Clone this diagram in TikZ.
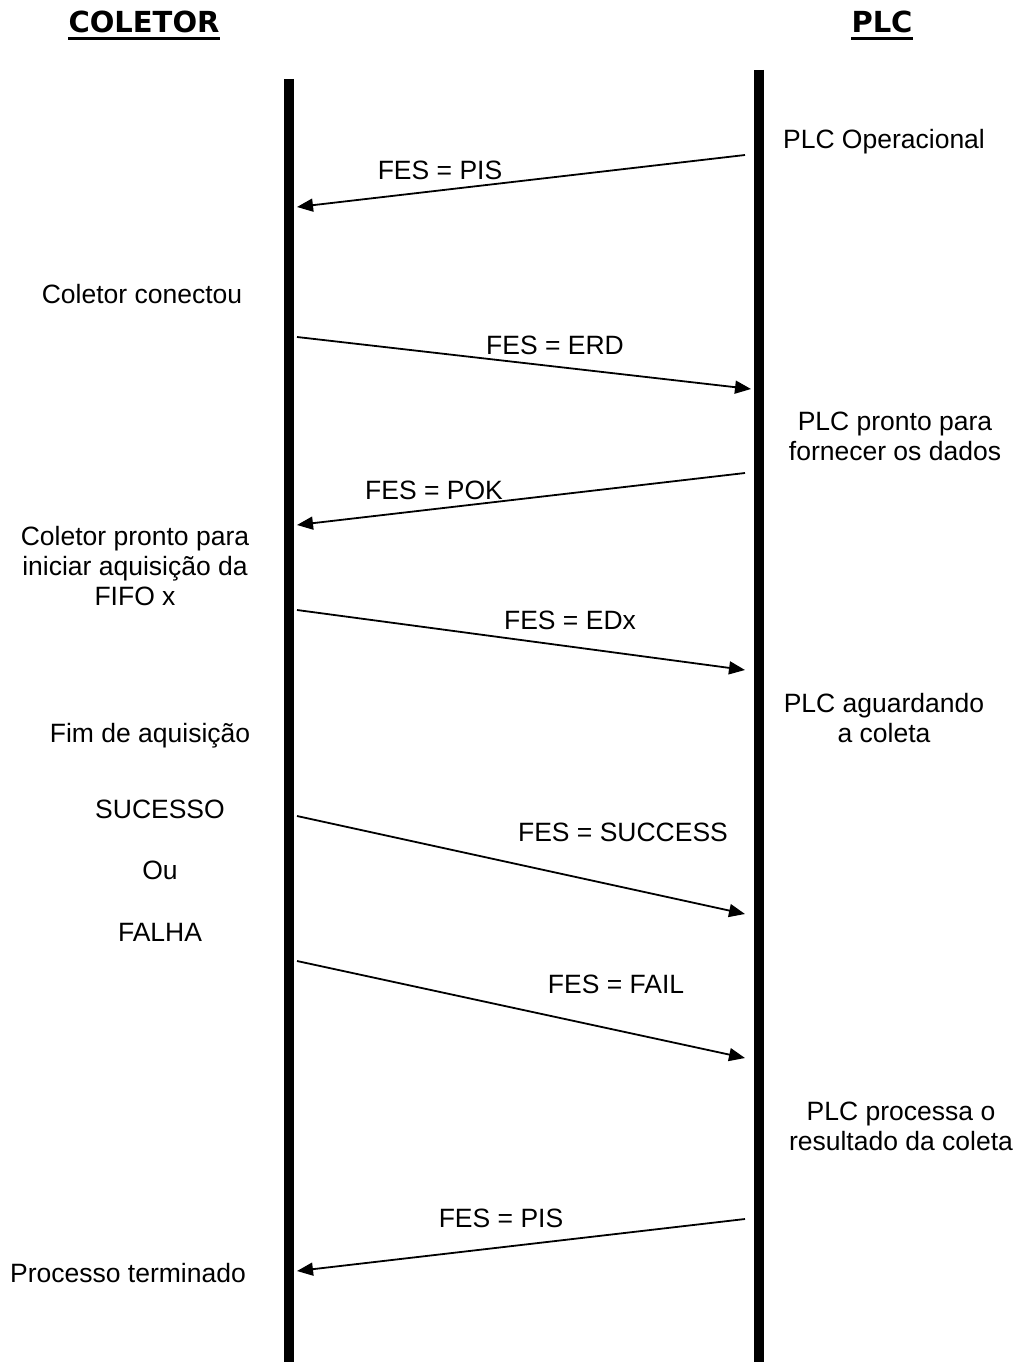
\documentclass[tikz,border=0pt]{standalone}
\usepackage{fontspec}
\setmainfont{Liberation Sans}
\newfontfamily\headfont{DejaVu Sans}
\usetikzlibrary{arrows.meta}
\begin{document}
\begin{tikzpicture}[x=1pt,y=-1pt,
  lifeline/.style={line width=10pt},
  msg/.style={line width=1.8pt,-{Triangle[length=16pt,width=13pt]}},
  lbl/.style={inner sep=0pt,anchor=base,align=center,font=\fontsize{26.5}{30}\selectfont},
  hdr/.style={inner sep=0pt,anchor=base,font=\headfont\bfseries\fontsize{29}{33}\selectfont}]
\useasboundingbox (0,0) rectangle (1021,1362);
% headers
\node[hdr] (hc) at (144,33) {COLETOR};
\node[hdr] (hp) at (882,33) {PLC};
\draw[line width=3pt] ([yshift=-6pt]hc.base west) -- ([yshift=-6pt]hc.base east);
\draw[line width=3pt] ([yshift=-6pt]hp.base west) -- ([yshift=-6pt]hp.base east);
% lifelines
\coordinate (Ltop) at (289,79);
\coordinate (Lbot) at (289,1362);
\coordinate (Rtop) at (759,70);
\coordinate (Rbot) at (759,1362);
\draw[lifeline] (Ltop) -- (Lbot);
\draw[lifeline] (Rtop) -- (Rbot);
% message end points
\coordinate (m1s) at (745,155);  \coordinate (m1e) at (297,207);
\coordinate (m2s) at (297,337);  \coordinate (m2e) at (751,389);
\coordinate (m3s) at (745,473);  \coordinate (m3e) at (297,525);
\coordinate (m4s) at (297,610);  \coordinate (m4e) at (745,670);
\coordinate (m5s) at (297,816);  \coordinate (m5e) at (745,914);
\coordinate (m6s) at (297,961);  \coordinate (m6e) at (745,1058);
\coordinate (m7s) at (745,1219); \coordinate (m7e) at (297,1271);
\draw[msg] (m1s) -- (m1e);
\draw[msg] (m2s) -- (m2e);
\draw[msg] (m3s) -- (m3e);
\draw[msg] (m4s) -- (m4e);
\draw[msg] (m5s) -- (m5e);
\draw[msg] (m6s) -- (m6e);
\draw[msg] (m7s) -- (m7e);
% message labels
\node[lbl] (t1) at (440,179) {FES = PIS};
\node[lbl] (t2) at (555,354) {FES = ERD};
\node[lbl] (t3) at (434,499) {FES = POK};
\node[lbl] (t4) at (570,629) {FES = EDx};
\node[lbl] (t5) at (623,841) {FES = SUCCESS};
\node[lbl] (t6) at (616,993) {FES = FAIL};
\node[lbl] (t7) at (501,1227) {FES = PIS};
% left side states
\node[lbl] (c1) at (142,303) {Coletor conectou};
\node[lbl] (c2) at (135,605) {Coletor pronto para\\iniciar aquisição da\\FIFO x};
\node[lbl] (c3) at (150,742) {Fim de aquisição};
\node[lbl] (c4) at (160,818) {SUCESSO};
\node[lbl] (c5) at (160,879) {Ou};
\node[lbl] (c6) at (160,941) {FALHA};
\node[lbl] (c7) at (128,1282) {Processo terminado};
% right side states
\node[lbl] (p1) at (884,149) {PLC Operacional};
\node[lbl] (p2) at (895,460) {PLC pronto para\\fornecer os dados};
\node[lbl] (p3) at (884,742) {PLC aguardando\\a coleta};
\node[lbl] (p4) at (901,1150) {PLC processa o\\resultado da coleta};
\end{tikzpicture}
\end{document}
